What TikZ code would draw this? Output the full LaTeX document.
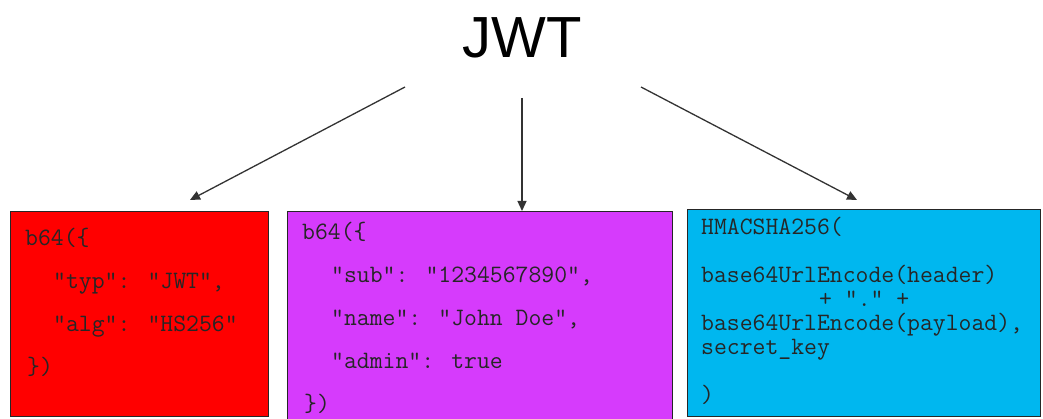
\documentclass[tikz,border=0pt]{standalone}
\usepackage{fontspec}
\setmainfont{Liberation Sans}
\newfontfamily\codefont{Latin Modern Mono}
\usetikzlibrary{arrows.meta}
\definecolor{hdrred}{HTML}{FF0000}
\definecolor{paypurple}{HTML}{D63BFC}
\definecolor{sigblue}{HTML}{00B7EF}
\begin{document}
\begin{tikzpicture}[x=1pt,y=-1pt,
  box/.style={draw=black!85, line width=1.2pt, inner sep=0, anchor=north west},
  code/.style={font=\codefont\fontsize{25}{43}\selectfont, align=left, anchor=north west, inner sep=0, text=black!85},
  link/.style={draw=black!80, line width=1.3pt, -{Triangle[length=10pt,width=9pt]}}]
\useasboundingbox (0,0) rectangle (1043,419);
\clip (0,0) rectangle (1043,419);
\node[font=\fontsize{58}{60}\selectfont, anchor=base, inner sep=0] (title) at (522,58) {JWT};
\node[box, fill=hdrred, minimum width=258pt, minimum height=205pt] (hdr) at (10,211) {};
\node[box, fill=paypurple, minimum width=385pt, minimum height=215pt] (pay) at (287,211) {};
\node[box, fill=sigblue, minimum width=353pt, minimum height=207pt] (sig) at (687,209) {};
\node[code] (hdrtext) at (25,228) {b64(\{\\\hspace*{28pt}"typ": "JWT",\\\hspace*{28pt}"alg": "HS256"\\\hspace*{2pt}\})};
\node[code] (paytext) at (302,222) {b64(\{\\\hspace*{29pt}"sub": "1234567890",\\\hspace*{29pt}"name": "John Doe",\\\hspace*{29pt}"admin": true\\\hspace*{2pt}\})};
\node[code, font=\codefont\fontsize{25}{24}\selectfont] (sigtext) at (701,217) {HMACSHA256(\\[24pt]base64UrlEncode(header)\\\hspace*{118pt}+ "." +\\base64UrlEncode(payload),\\secret\_key\\[24pt])};
\coordinate (s1) at (405,87);
\coordinate (e1) at (190,200);
\coordinate (s2) at (522,98);
\coordinate (s3) at (641,87);
\coordinate (e3) at (857,200);
\draw[link] (s1) -- (e1);
\draw[link] (s2) -- (pay.north -| s2);
\draw[link] (s3) -- (e3);
\end{tikzpicture}
\end{document}
